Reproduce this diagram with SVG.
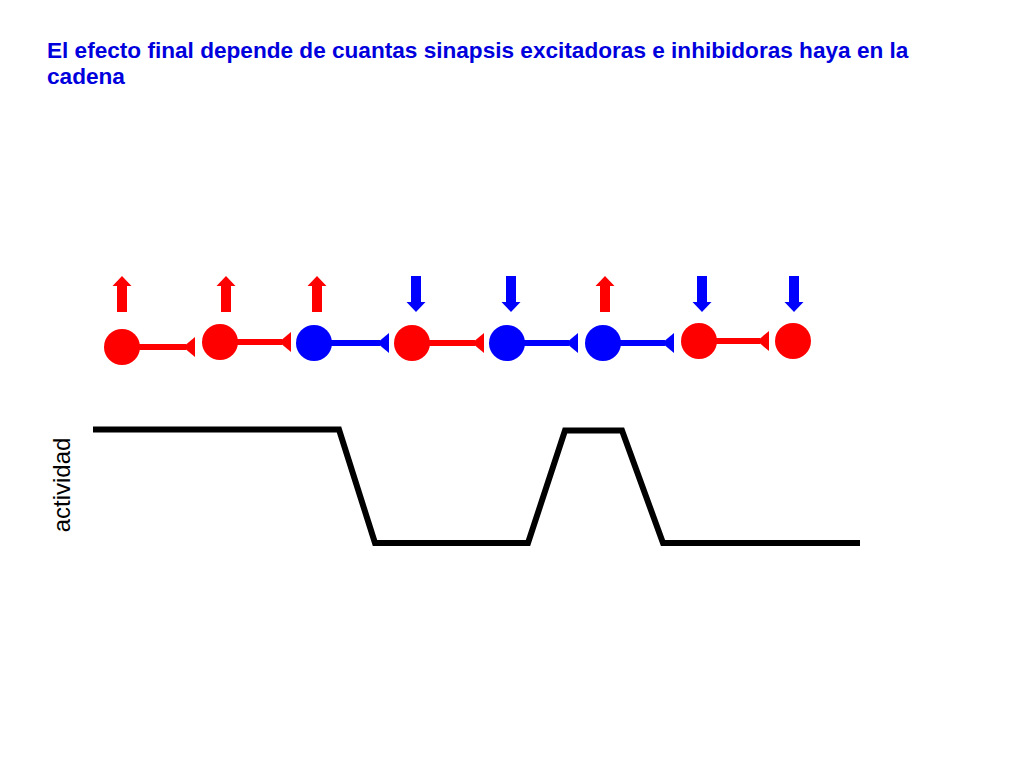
<svg xmlns="http://www.w3.org/2000/svg" xmlns:xlink="http://www.w3.org/1999/xlink" width="1024" height="768" viewBox="0 0 1024 768">
<style>
.title{font-family:"Liberation Sans",Arial,sans-serif;font-weight:bold;font-size:22.6px;fill:#0000DD}
.lbl{font-family:"Liberation Sans",Arial,sans-serif;font-size:24px;fill:#000}
.red{fill:#FF0000}
.blue{fill:#0000FF}
.lr{stroke:#FF0000;stroke-width:6;fill:none}
.lb{stroke:#0000FF;stroke-width:6;fill:none}
.trace{stroke:#000;stroke-width:6;fill:none;stroke-linejoin:miter}
</style>
<defs>
<path id="up" d="M0,-36 L9.5,-26 L5,-26 L5,0 L-5,0 L-5,-26 L-9.5,-26 Z"/>
<path id="down" d="M-5,-36 L5,-36 L5,-10 L9.5,-10 L0,0 L-9.5,-10 L-5,-10 Z"/>
<path id="syn" d="M0,0 L12,-10 L12,10 Z"/>
</defs>
<rect width="1024" height="768" fill="#fff"/>
<text class="title" x="47" y="58">El efecto final depende de cuantas sinapsis excitadoras e inhibidoras haya en la</text>
<text class="title" x="47" y="84">cadena</text>

<g id="connectors">
<line class="lr" x1="122" y1="347" x2="186" y2="347"/><use href="#syn" x="183" y="347" class="red"/>
<line class="lr" x1="220" y1="342" x2="282" y2="342"/><use href="#syn" x="279" y="342" class="red"/>
<line class="lb" x1="314" y1="343" x2="380" y2="343"/><use href="#syn" x="377" y="343" class="blue"/>
<line class="lr" x1="412" y1="343" x2="475" y2="343"/><use href="#syn" x="472" y="343" class="red"/>
<line class="lb" x1="507" y1="343" x2="569" y2="343"/><use href="#syn" x="566" y="343" class="blue"/>
<line class="lb" x1="603" y1="343" x2="665" y2="343"/><use href="#syn" x="662" y="343" class="blue"/>
<line class="lr" x1="699" y1="341" x2="760" y2="341"/><use href="#syn" x="757" y="341" class="red"/>
</g>

<g id="n1"><circle cx="122" cy="347" r="18" class="red"/><use href="#up" x="122" y="312" class="red"/></g>
<g id="n2"><circle cx="220" cy="342" r="18" class="red"/><use href="#up" x="226" y="312" class="red"/></g>
<g id="n3"><circle cx="314" cy="343" r="18" class="blue"/><use href="#up" x="317" y="312" class="red"/></g>
<g id="n4"><circle cx="412" cy="343" r="18" class="red"/><use href="#down" x="416" y="312" class="blue"/></g>
<g id="n5"><circle cx="507" cy="343" r="18" class="blue"/><use href="#down" x="511" y="312" class="blue"/></g>
<g id="n6"><circle cx="603" cy="343" r="18" class="blue"/><use href="#up" x="605" y="312" class="red"/></g>
<g id="n7"><circle cx="699" cy="341" r="18" class="red"/><use href="#down" x="702" y="312" class="blue"/></g>
<g id="n8"><circle cx="793" cy="341" r="18" class="red"/><use href="#down" x="794" y="312" class="blue"/></g>

<g id="activity">
<path class="trace" d="M93,429.5 L339,429.5 L375,543 L528,543 L565,430.5 L622,430.5 L663,543 L860,543"/>
<text class="lbl" transform="translate(70,485) rotate(-90)" text-anchor="middle">actividad</text>
</g>
</svg>
